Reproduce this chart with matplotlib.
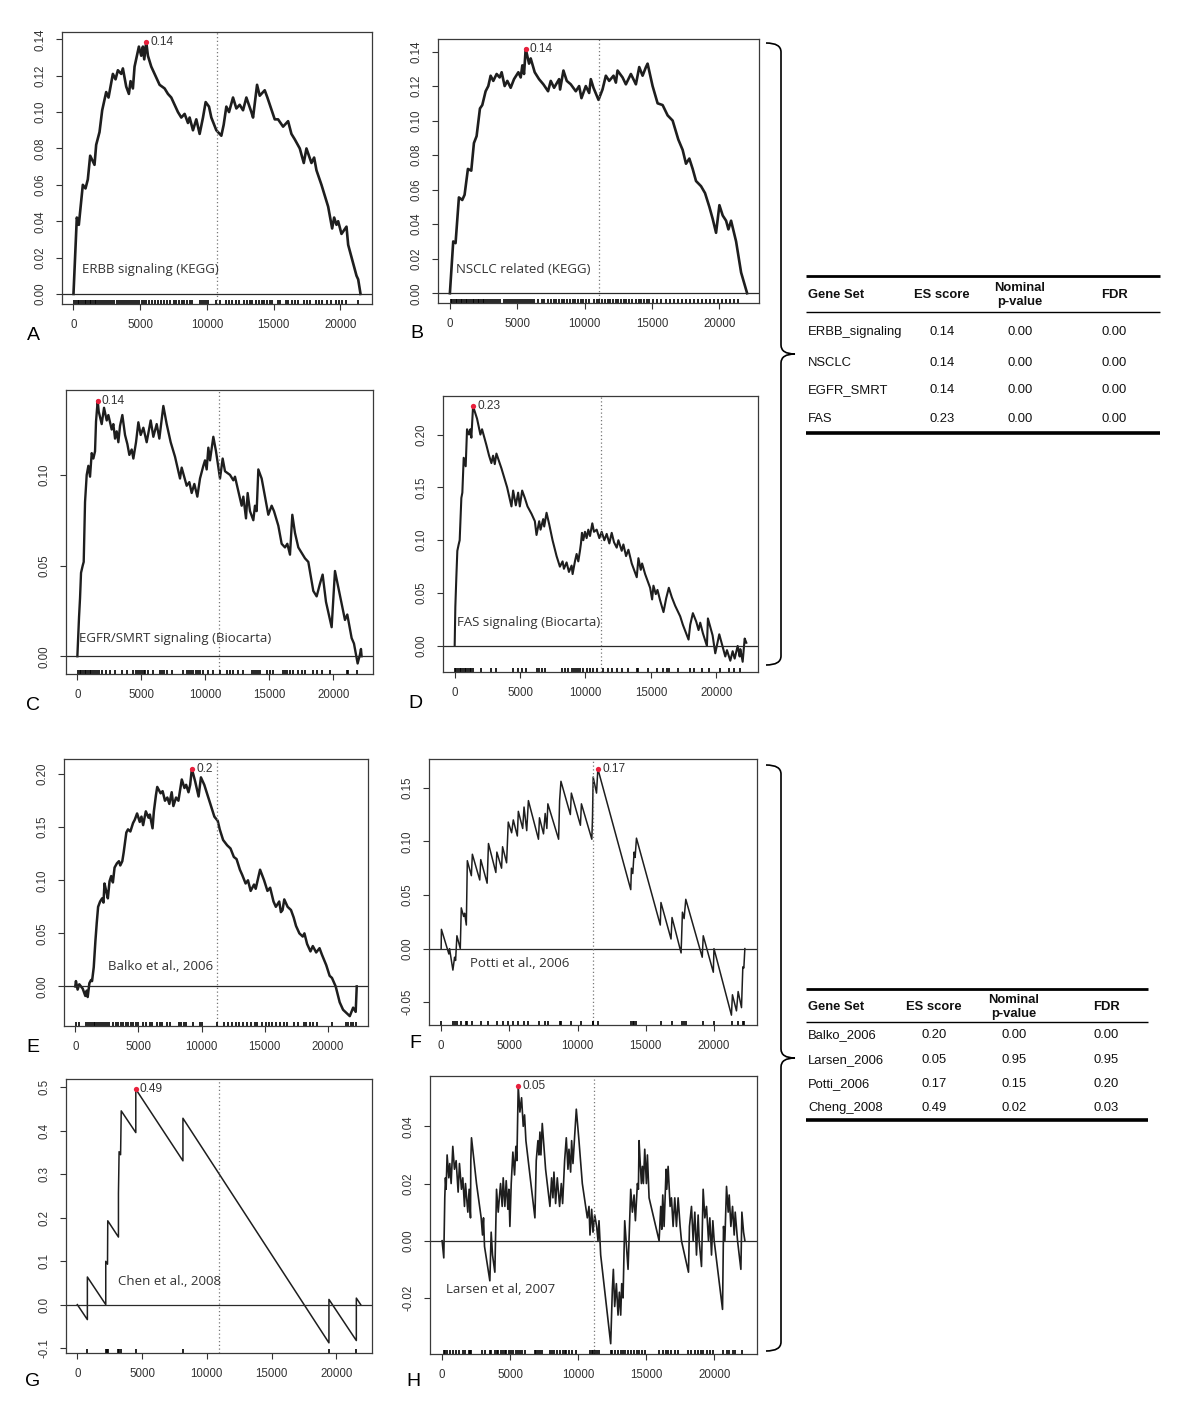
import matplotlib
matplotlib.use("Agg")
import matplotlib.pyplot as plt
from matplotlib.path import Path
from matplotlib.patches import PathPatch
from matplotlib.lines import Line2D
from matplotlib.ticker import FormatStrFormatter

plt.rcParams['font.family'] = ['Liberation Sans', 'DejaVu Sans']
plt.rcParams['axes.unicode_minus'] = False

# running enrichment scores (rank in list, ES)
erbb_curve = [(0, 0.0), (250, 0.042), (400, 0.038), (700, 0.060), (900, 0.058), (1075, 0.063), (1250, 0.076),
              (1575, 0.071), (1700, 0.082), (1950, 0.089), (2150, 0.101), (2450, 0.111), (2625, 0.108),
              (2950, 0.121), (3150, 0.118), (3325, 0.123), (3575, 0.121), (3700, 0.124), (3950, 0.114),
              (4150, 0.110), (4275, 0.117), (4450, 0.113), (4575, 0.125), (4900, 0.136), (5075, 0.131),
              (5200, 0.136), (5300, 0.129), (5450, 0.1385), (5575, 0.131), (5825, 0.125), (6075, 0.121),
              (6450, 0.115), (6825, 0.113), (7075, 0.110), (7325, 0.108), (7825, 0.100), (8075, 0.097),
              (8325, 0.099), (8575, 0.094), (8700, 0.097), (8950, 0.090), (9200, 0.096), (9450, 0.088),
              (9700, 0.097), (9900, 0.1055), (10150, 0.103), (10325, 0.097), (10700, 0.090), (11075, 0.087),
              (11250, 0.093), (11450, 0.103), (11650, 0.100), (11950, 0.108), (12200, 0.102), (12450, 0.104),
              (12700, 0.101), (12950, 0.108), (13325, 0.100), (13450, 0.097), (13750, 0.115), (13950, 0.109),
              (14325, 0.112), (14525, 0.108), (15075, 0.096), (15325, 0.096), (15700, 0.092), (16075, 0.095),
              (16325, 0.088), (16575, 0.085), (16950, 0.080), (17250, 0.072), (17450, 0.080), (17825, 0.072),
              (18025, 0.075), (18200, 0.068), (18575, 0.060), (19075, 0.048), (19375, 0.036), (19525, 0.042),
              (19700, 0.038), (19825, 0.040), (20075, 0.033), (20450, 0.037), (20575, 0.027), (21200, 0.010),
              (21325, 0.008), (21500, 0.0)]
erbb_hits = [75, 200, 330, 450, 580, 700, 830, 950, 1080, 1200, 1330, 1450, 1580, 1700, 1830, 1950,
             2100, 2250, 2400, 2550, 2700, 2850, 3000, 3250, 3400, 3550, 3700, 3850, 4000, 4150, 4300,
             4450, 4600, 4750, 4900, 5100, 5300, 5450, 5650, 5850, 6100, 6300, 6550, 6800, 7000, 7250,
             7500, 7700, 7900, 8100, 8300, 8500, 8700, 8900, 9450, 9600, 9750, 9900, 10050, 10700, 10950,
             11450, 11650, 11850, 12200, 12400, 12800, 13000, 13200, 13400, 13700, 13900, 14100, 14300,
             14500, 14700, 14900, 15300, 15500, 15900, 16100, 16400, 16600, 16800, 17300, 17500, 17700,
             18200, 18400, 18600, 19000, 19300, 19700, 19900, 20100, 20400, 21300]

nsclc_curve = [(0, 0.0), (248, 0.030), (421, 0.029), (669, 0.0555), (917, 0.054), (1090, 0.057), (1338, 0.072),
               (1586, 0.071), (1784, 0.087), (1982, 0.091), (2230, 0.107), (2404, 0.109), (2651, 0.117),
               (2850, 0.120), (3023, 0.126), (3221, 0.123), (3469, 0.127), (3692, 0.125), (3841, 0.128),
               (4064, 0.120), (4262, 0.123), (4510, 0.119), (4758, 0.124), (5080, 0.128), (5253, 0.125),
               (5377, 0.132), (5501, 0.127), (5625, 0.1416), (5873, 0.133), (5997, 0.136), (6294, 0.128),
               (6616, 0.124), (6938, 0.121), (7285, 0.117), (7484, 0.123), (7731, 0.119), (8103, 0.124),
               (8177, 0.118), (8425, 0.129), (8673, 0.123), (8970, 0.121), (9342, 0.117), (9590, 0.120),
               (9763, 0.113), (10085, 0.120), (10333, 0.116), (10457, 0.124), (10655, 0.119), (11027, 0.112),
               (11324, 0.118), (11572, 0.126), (11820, 0.123), (12142, 0.126), (12316, 0.122), (12440, 0.129),
               (12812, 0.125), (13059, 0.121), (13431, 0.127), (13802, 0.121), (14050, 0.131), (14298, 0.126),
               (14546, 0.131), (14670, 0.133), (15041, 0.120), (15413, 0.110), (15785, 0.109), (16157, 0.103),
               (16528, 0.100), (16950, 0.089), (17272, 0.083), (17519, 0.075), (17767, 0.078), (18015, 0.072),
               (18263, 0.065), (18635, 0.062), (18932, 0.058), (19254, 0.050), (19502, 0.043), (19750, 0.035),
               (19998, 0.051), (20245, 0.045), (20493, 0.042), (20667, 0.037), (20865, 0.042), (21236, 0.030),
               (21608, 0.012), (22054, 0.0)]
nsclc_hits = [50, 180, 300, 430, 550, 680, 800, 930, 1050, 1180, 1300, 1430, 1550, 1680, 1800, 1930, 2050,
              2180, 2300, 2430, 2550, 2700, 2850, 3000, 3150, 3300, 3450, 3600, 3750, 4000, 4150, 4300,
              4450, 4600, 4750, 4900, 5050, 5200, 5350, 5500, 5650, 5800, 5950, 6100, 6250, 6550, 6800,
              7000, 7300, 7500, 7700, 7900, 8100, 8300, 8500, 8700, 8900, 9100, 9300, 9500, 9700, 9900,
              10100, 10300, 10700, 10900, 11100, 11300, 11500, 11700, 11900, 12100, 12300, 12500, 12700,
              12900, 13100, 13300, 13500, 13800, 14000, 14200, 14400, 14600, 14800, 15100, 15400, 15700,
              16000, 16300, 16600, 16900, 17200, 17500, 17800, 18100, 18400, 18700, 19000, 19300, 19600,
              19900, 20200, 20500, 20800, 21100, 21350]

egfr_curve = [(0, 0.0), (130, 0.0216), (208, 0.032), (286, 0.046), (417, 0.050), (495, 0.052), (599, 0.085),
              (729, 0.100), (859, 0.105), (990, 0.099), (1120, 0.112), (1250, 0.109), (1380, 0.113),
              (1458, 0.1295), (1588, 0.141), (1667, 0.135), (1901, 0.128), (2083, 0.137), (2292, 0.130),
              (2422, 0.133), (2682, 0.125), (2812, 0.128), (2943, 0.120), (3073, 0.124), (3203, 0.118),
              (3333, 0.127), (3515, 0.133), (3724, 0.122), (3906, 0.117), (4062, 0.111), (4245, 0.114),
              (4375, 0.109), (4583, 0.118), (4765, 0.129), (4948, 0.122), (5156, 0.126), (5416, 0.118),
              (5729, 0.130), (5937, 0.121), (6198, 0.128), (6406, 0.120), (6718, 0.138), (6979, 0.128),
              (7291, 0.118), (7630, 0.110), (8020, 0.098), (8151, 0.104), (8541, 0.094), (8749, 0.096),
              (8932, 0.090), (9140, 0.095), (9374, 0.088), (9583, 0.098), (9843, 0.105), (9973, 0.108),
              (10104, 0.103), (10234, 0.115), (10364, 0.108), (10624, 0.121), (10832, 0.113), (11145, 0.098),
              (11353, 0.109), (11536, 0.102), (11926, 0.100), (12187, 0.097), (12317, 0.099), (12577, 0.091),
              (12838, 0.083), (12968, 0.088), (13176, 0.076), (13306, 0.090), (13489, 0.080), (13749, 0.075),
              (13879, 0.083), (14010, 0.080), (14140, 0.103), (14400, 0.098), (14661, 0.088), (14921, 0.078),
              (15181, 0.083), (15364, 0.080), (15702, 0.072), (15963, 0.062), (16223, 0.060), (16405, 0.062),
              (16614, 0.056), (16796, 0.078), (17004, 0.068), (17265, 0.060), (17525, 0.057), (17785, 0.054),
              (18046, 0.052), (18436, 0.036), (18697, 0.033), (18957, 0.040), (19165, 0.045), (19426, 0.030),
              (19869, 0.016), (20129, 0.047), (20389, 0.038), (20910, 0.020), (21092, 0.023), (21431, 0.010),
              (21613, 0.007), (21900, -0.004), (22082, 0.001), (22160, 0.004), (22212, 0.0)]
egfr_hits = [50, 180, 300, 430, 560, 700, 830, 950, 1100, 1250, 1400, 1550, 1700, 1900, 2240, 2550, 2940,
             3460, 3850, 4380, 4550, 4720, 4900, 5050, 5200, 5290, 5550, 5940, 6460, 6620, 6770, 6980, 7370,
             8280, 8540, 8700, 8880, 9060, 9250, 9420, 9580, 9840, 10230, 10625, 11145, 11670, 11930, 12190,
             12580, 12970, 13620, 13800, 13960, 14140, 14270, 14790, 15050, 15310, 16090, 16250, 16400,
             16600, 16870, 17260, 17520, 17790, 18440, 18700, 19090, 19740, 21040, 21170, 21820]

fas_curve = [(0, 0.0), (51, 0.037), (128, 0.065), (204, 0.090), (306, 0.096), (383, 0.100), (511, 0.140),
             (587, 0.145), (690, 0.178), (843, 0.170), (945, 0.205), (1098, 0.200), (1200, 0.205), (1277, 0.197),
             (1405, 0.2268), (1711, 0.215), (1967, 0.200), (2094, 0.205), (2426, 0.190), (2631, 0.180),
             (2809, 0.173), (2937, 0.180), (3065, 0.172), (3193, 0.182), (3576, 0.168), (4010, 0.150),
             (4342, 0.132), (4470, 0.147), (4674, 0.133), (4853, 0.145), (4980, 0.132), (5159, 0.147),
             (5363, 0.140), (5568, 0.132), (5874, 0.125), (6130, 0.118), (6257, 0.105), (6462, 0.118),
             (6564, 0.110), (6768, 0.120), (6845, 0.113), (7024, 0.126), (7228, 0.115), (7483, 0.100),
             (7790, 0.085), (8045, 0.075), (8249, 0.080), (8352, 0.073), (8556, 0.079), (8735, 0.070),
             (8939, 0.076), (9016, 0.068), (9194, 0.080), (9322, 0.087), (9450, 0.080), (9578, 0.090),
             (9654, 0.097), (9731, 0.107), (9833, 0.100), (9961, 0.108), (10088, 0.102), (10216, 0.110),
             (10344, 0.104), (10522, 0.116), (10650, 0.108), (10855, 0.110), (11059, 0.102), (11238, 0.108),
             (11442, 0.100), (11621, 0.106), (11825, 0.097), (12004, 0.107), (12183, 0.098), (12387, 0.093),
             (12515, 0.100), (12770, 0.090), (12898, 0.096), (13102, 0.085), (13281, 0.091), (13536, 0.078),
             (13919, 0.065), (14047, 0.083), (14226, 0.072), (14328, 0.078), (14558, 0.068), (14941, 0.055),
             (15094, 0.044), (15196, 0.057), (15375, 0.049), (15503, 0.053), (15707, 0.043), (15963, 0.032),
             (16167, 0.045), (16371, 0.055), (16601, 0.046), (16856, 0.038), (17240, 0.028), (17444, 0.020),
             (17878, 0.006), (18006, 0.020), (18210, 0.031), (18465, 0.023), (18644, 0.015), (18772, 0.022),
             (18976, 0.012), (19283, 0.0), (19359, 0.026), (19717, 0.010), (19921, -0.007), (20227, 0.011),
             (20381, 0.004), (20687, -0.010), (20815, -0.004), (21071, -0.014), (21250, -0.005),
             (21403, -0.012), (21633, 0.0), (21786, -0.010), (21837, -0.003), (22016, -0.015), (22169, 0.007),
             (22296, 0.003)]
fas_hits = [20, 130, 250, 380, 500, 630, 760, 900, 1020, 1150, 1280, 1400, 2040, 2810, 3190, 4470, 4850,
            5110, 5490, 6260, 6460, 6640, 6900, 8170, 8430, 8680, 8940, 9100, 9270, 9450, 9600, 9830, 10090,
            10340, 10600, 10850, 11370, 11750, 12000, 12390, 12770, 13280, 13920, 14050, 14810, 15450, 15960,
            16220, 16350, 17110, 18010, 18260, 18900, 19410, 20300, 20940, 21330, 21840]

balko_curve = [(0, 0.0), (53, 0.005), (186, -0.003), (319, 0.002), (452, 0.0), (585, -0.002), (798, -0.009),
               (904, -0.004), (984, -0.010), (1117, 0.003), (1250, 0.006), (1330, 0.005), (1463, 0.018),
               (1596, 0.043), (1702, 0.060), (1809, 0.075), (1968, 0.080), (2128, 0.083), (2234, 0.079),
               (2314, 0.097), (2447, 0.090), (2580, 0.083), (2713, 0.099), (2846, 0.104), (2979, 0.098),
               (3112, 0.112), (3298, 0.116), (3458, 0.118), (3564, 0.114), (3724, 0.118), (3830, 0.126),
               (4043, 0.145), (4176, 0.148), (4362, 0.146), (4575, 0.154), (4708, 0.157), (4894, 0.163),
               (5107, 0.155), (5240, 0.160), (5373, 0.152), (5586, 0.165), (5799, 0.159), (5905, 0.162),
               (6118, 0.149), (6224, 0.165), (6384, 0.180), (6490, 0.188), (6756, 0.182), (6916, 0.184),
               (7102, 0.175), (7288, 0.178), (7448, 0.172), (7634, 0.183), (7767, 0.170), (7980, 0.178),
               (8166, 0.175), (8432, 0.195), (8645, 0.187), (8778, 0.190), (8964, 0.183), (9097, 0.190),
               (9230, 0.205), (9496, 0.193), (9762, 0.179), (9948, 0.197), (10214, 0.190), (10480, 0.180),
               (10693, 0.172), (11012, 0.160), (11278, 0.156), (11438, 0.148), (11704, 0.138), (12023, 0.133),
               (12289, 0.130), (12555, 0.122), (12768, 0.120), (13034, 0.110), (13220, 0.105), (13486, 0.097),
               (13672, 0.100), (13885, 0.090), (14151, 0.096), (14284, 0.092), (14630, 0.110), (14949, 0.100),
               (15215, 0.090), (15428, 0.093), (15694, 0.080), (15880, 0.075), (16146, 0.080), (16279, 0.070),
               (16412, 0.072), (16545, 0.082), (16811, 0.075), (17077, 0.072), (17290, 0.065), (17476, 0.057),
               (17742, 0.050), (18008, 0.047), (18141, 0.050), (18354, 0.040), (18620, 0.033), (18806, 0.038),
               (19072, 0.032), (19338, 0.036), (19524, 0.030), (19870, 0.020), (20136, 0.010), (20322, 0.008),
               (20615, 0.0), (20934, -0.015), (21200, -0.022), (21466, -0.025), (21732, -0.028),
               (21998, -0.020), (22200, -0.024), (22283, 0.0)]
balko_hits = [53, 320, 850, 1000, 1150, 1300, 1450, 1600, 1750, 1900, 2050, 2200, 2350, 2500, 2700, 3000,
              3200, 3400, 3600, 3800, 4000, 4200, 4400, 4600, 4800, 5000, 5400, 5600, 5900, 6100, 6500, 6700,
              6900, 7300, 7500, 8200, 8400, 8600, 8800, 9300, 9900, 10000, 11200, 11800, 12100, 12400, 12700,
              13000, 13300, 13600, 13900, 14200, 14400, 14800, 15100, 15300, 15600, 15900, 16200, 16500,
              16800, 17300, 17600, 18100, 18300, 18600, 18800, 19100, 20300, 21400, 21600, 21800, 22000, 22200]

potti_curve = [(0, 0.0), (20, 0.018), (566, -0.005), (615, 0.0), (861, -0.020), (984, -0.008), (1058, -0.011),
               (1156, 0.012), (1402, 0.0), (1476, 0.038), (1648, 0.030), (1722, 0.033), (1845, 0.022),
               (1870, 0.042), (1919, 0.082), (2214, 0.068), (2288, 0.088), (2829, 0.064), (2903, 0.083),
               (3370, 0.061), (3469, 0.098), (4010, 0.071), (4084, 0.090), (4428, 0.075), (4502, 0.095),
               (4797, 0.080), (4920, 0.118), (5166, 0.108), (5289, 0.120), (5584, 0.105), (5658, 0.128),
               (5978, 0.112), (6076, 0.132), (6273, 0.110), (6396, 0.138), (7134, 0.102), (7208, 0.122),
               (7503, 0.107), (7626, 0.126), (7749, 0.112), (7823, 0.135), (8610, 0.102), (8684, 0.138),
               (8782, 0.156), (9471, 0.125), (9545, 0.145), (10209, 0.115), (10283, 0.135), (11045, 0.102),
               (11095, 0.122), (11144, 0.160), (11390, 0.145), (11488, 0.1676), (13899, 0.055), (13948, 0.075),
               (14047, 0.070), (14145, 0.090), (14219, 0.085), (14317, 0.103), (16064, 0.022), (16113, 0.043),
               (16851, 0.009), (16925, 0.029), (17589, -0.004), (17687, 0.034), (17810, 0.028), (17933, 0.046),
               (19139, -0.008), (19213, 0.012), (19951, -0.022), (20000, 0.0), (21279, -0.062),
               (21353, -0.043), (21648, -0.058), (21771, -0.040), (22017, -0.055), (22115, -0.017),
               (22189, -0.018), (22263, 0.0)]
potti_hits = [20, 860, 984, 1156, 1476, 1845, 1919, 2288, 2903, 3469, 4084, 4502, 4920, 5289, 5658, 6076, 6396,
              7208, 7626, 7823, 8684, 8782, 9545, 10283, 11095, 11144, 11488, 13948, 14047, 14145, 14317,
              16113, 16925, 17687, 17810, 17933, 19213, 20000, 21353, 21771, 22115, 22189]

chen_curve = [(0, 0.0), (775, -0.0345), (775, 0.0636), (2195, 0.0), (2195, 0.0996), (2330, 0.093),
              (2350, 0.193), (3175, 0.1555), (3175, 0.256), (3225, 0.352), (3340, 0.345), (3390, 0.446),
              (4515, 0.396), (4515, 0.496), (8155, 0.331), (8155, 0.429), (19430, -0.088), (19430, 0.012),
              (21545, -0.0827), (21545, 0.015), (21880, 0.0)]
chen_hits = [775, 2195, 2300, 2350, 3175, 3225, 3390, 4515, 8155, 19430, 21545]

larsen_curve = [(0, 0.0), (123, -0.006), (196, 0.015), (245, 0.022), (294, 0.018), (368, 0.030), (491, 0.022),
                (564, 0.027), (663, 0.020), (785, 0.033), (908, 0.025), (1031, 0.028), (1178, 0.017),
                (1276, 0.027), (1423, 0.018), (1521, 0.022), (1644, 0.012), (1718, 0.020), (1890, 0.010),
                (1988, 0.018), (2086, 0.008), (2110, 0.028), (2160, 0.036), (2528, 0.020), (2871, 0.008),
                (2969, 0.002), (3043, 0.008), (3117, -0.002), (3509, -0.014), (3607, 0.003), (3706, -0.005),
                (3877, -0.011), (4000, 0.018), (4123, 0.010), (4295, 0.020), (4417, 0.012), (4491, 0.022),
                (4614, 0.012), (4712, 0.021), (4834, 0.011), (4908, 0.018), (4982, 0.005), (5080, 0.020),
                (5202, 0.031), (5325, 0.023), (5423, 0.033), (5497, 0.028), (5595, 0.054), (5718, 0.045),
                (5841, 0.050), (5963, 0.040), (6061, 0.044), (6160, 0.035), (6822, 0.008), (6920, 0.028),
                (7043, 0.035), (7117, 0.030), (7190, 0.038), (7264, 0.030), (7362, 0.041), (7607, 0.025),
                (7926, 0.012), (8049, 0.022), (8147, 0.015), (8221, 0.024), (8344, 0.013), (8466, 0.022),
                (8638, 0.012), (8761, 0.020), (8859, 0.013), (9006, 0.028), (9129, 0.036), (9252, 0.025),
                (9325, 0.032), (9448, 0.024), (9521, 0.035), (9620, 0.027), (9865, 0.046), (10061, 0.035),
                (10307, 0.020), (10675, 0.008), (10798, 0.012), (10871, 0.002), (10994, 0.011), (11092, 0.003),
                (11215, 0.009), (11362, 0.005), (11460, 0.0), (11534, 0.007), (11657, -0.005), (12393, -0.036),
                (12515, -0.017), (12589, -0.010), (12687, -0.023), (12810, -0.015), (12932, -0.026),
                (13030, -0.018), (13129, -0.026), (13203, -0.015), (13301, -0.020), (13424, 0.007),
                (13498, 0.002), (13669, -0.010), (13865, 0.018), (13988, 0.010), (14111, 0.016), (14209, 0.007),
                (14356, 0.020), (14430, 0.018), (14479, 0.035), (14553, 0.028), (14651, 0.020), (14724, 0.026),
                (14798, 0.020), (14896, 0.032), (15018, 0.020), (15092, 0.030), (15215, 0.015), (15951, 0.0),
                (16074, 0.012), (16147, 0.004), (16221, 0.016), (16319, 0.005), (16466, 0.025), (16515, 0.018),
                (16614, 0.026), (16761, 0.012), (16859, 0.015), (16982, 0.005), (17104, 0.015), (17227, 0.005),
                (17350, 0.015), (17497, 0.005), (17595, 0.0), (18111, -0.011), (18184, 0.005), (18332, 0.012),
                (18455, 0.0), (18577, 0.010), (18700, -0.005), (18822, 0.009), (18896, 0.0), (19068, -0.009),
                (19190, 0.018), (19313, 0.008), (19436, 0.012), (19583, 0.0), (19681, 0.008), (19804, -0.005),
                (19902, 0.007), (20000, 0.0), (20614, -0.024), (20687, 0.005), (20785, 0.0), (20908, 0.019),
                (21031, 0.010), (21104, 0.016), (21227, 0.005), (21350, 0.012), (21472, 0.002), (21546, 0.010),
                (21718, 0.0), (21963, -0.010), (22037, 0.010), (22160, 0.003), (22258, 0.0)]
larsen_hits = [123, 245, 368, 564, 785, 1031, 1276, 1521, 1718, 1988, 2086, 2160, 2945, 3117, 3509, 3607, 3877,
               4000, 4123, 4295, 4491, 4614, 4712, 4908, 5080, 5202, 5423, 5595, 5718, 5841, 6061, 6822, 6920,
               7043, 7190, 7362, 7926, 8049, 8221, 8466, 8638, 8859, 9006, 9129, 9325, 9521, 9865, 10871,
               10994, 11092, 11215, 11362, 11534, 12393, 12515, 12687, 12932, 13129, 13301, 13424, 13669,
               13865, 14111, 14356, 14479, 14724, 14896, 15951, 16221, 16466, 16614, 16859, 17104, 17350,
               18111, 18332, 18577, 18822, 19068, 19190, 19436, 19681, 19902, 20614, 20908, 21104, 21350,
               21546, 22037]

set_names = ['ERBB signaling (KEGG)', 'NSCLC related (KEGG)', 'EGFR/SMRT signaling (Biocarta)',
             'FAS signaling (Biocarta)', 'Balko et al., 2006', 'Potti et al., 2006', 'Chen et al., 2008',
             'Larsen et al, 2007']
peak_labels = ['0.14', '0.14', '0.14', '0.23', '0.2', '0.17', '0.49', '0.05']
panel_letters = ['A', 'B', 'C', 'D', 'E', 'F', 'G', 'H']

table1_sets = ['ERBB_signaling', 'NSCLC', 'EGFR_SMRT', 'FAS']
table1_es = ['0.14', '0.14', '0.14', '0.23']
table1_p = ['0.00', '0.00', '0.00', '0.00']
table1_fdr = ['0.00', '0.00', '0.00', '0.00']
table2_sets = ['Balko_2006', 'Larsen_2006', 'Potti_2006', 'Cheng_2008']
table2_es = ['0.20', '0.05', '0.17', '0.49']
table2_p = ['0.00', '0.95', '0.15', '0.02']
table2_fdr = ['0.00', '0.95', '0.20', '0.03']

W, H = 1200, 1408
fig = plt.figure(figsize=(12, 14.08), dpi=100)
fig.patch.set_facecolor('white')


def fx(x):
    return x / W


def fy(y):
    return 1 - y / H


# layout in pixels: axes box (left, top, right, bottom), letter position, label position, mid line
panels = [
    dict(curve=erbb_curve, hits=erbb_hits, box=(62, 32, 372, 304), letter=(33, 335), name_at=(650, 0.0132),
         mid=10750, yt=[0, 0.02, 0.04, 0.06, 0.08, 0.10, 0.12, 0.14], fmt='%.2f', lw=1.9),
    dict(curve=nsclc_curve, hits=nsclc_hits, box=(438, 39, 759, 303), letter=(417, 333), name_at=(420, 0.0139),
         mid=11080, yt=[0, 0.02, 0.04, 0.06, 0.08, 0.10, 0.12, 0.14], fmt='%.2f', lw=1.9),
    dict(curve=egfr_curve, hits=egfr_hits, box=(66, 390, 373, 674), letter=(33, 705), name_at=(130, 0.0100),
         mid=11100, yt=[0, 0.05, 0.10], fmt='%.2f', lw=1.7),
    dict(curve=fas_curve, hits=fas_hits, box=(443, 396, 758, 672), letter=(415, 704), name_at=(179, 0.0217),
         mid=11160, yt=[0, 0.05, 0.10, 0.15, 0.20], fmt='%.2f', lw=1.5),
    dict(curve=balko_curve, hits=balko_hits, box=(64, 759, 368, 1026), letter=(33, 1047), name_at=(2580, 0.0188),
         mid=11220, yt=[0, 0.05, 0.10, 0.15, 0.20], fmt='%.2f', lw=1.8),
    dict(curve=potti_curve, hits=potti_hits, box=(429, 759, 757, 1025), letter=(415, 1044), name_at=(2090, -0.014),
         mid=11144, yt=[-0.05, 0, 0.05, 0.10, 0.15], fmt='%.2f', lw=1.1),
    dict(curve=chen_curve, hits=chen_hits, box=(66, 1079, 372, 1353), letter=(33, 1382), name_at=(3120, 0.0536),
         mid=10910, yt=[-0.1, 0, 0.1, 0.2, 0.3, 0.4, 0.5], fmt='%.1f', lw=1.1),
    dict(curve=larsen_curve, hits=larsen_hits, box=(430, 1076, 757, 1354), letter=(413, 1382), name_at=(320, -0.017),
         mid=11166, yt=[-0.02, 0, 0.02, 0.04], fmt='%.2f', lw=1.2),
]

grey = '#333333'
for i, p in enumerate(panels):
    l, t, r, b = p['box']
    ax = fig.add_axes([fx(l), fy(b), (r - l) / W, (b - t) / H])
    xs = [c[0] for c in p['curve']]
    ys = [c[1] for c in p['curve']]
    ax.plot(xs, ys, color='#1e1e1e', lw=p['lw'], solid_joinstyle='round')
    ax.margins(0.04)
    ax.autoscale_view()
    ax.set_xlim(ax.get_xlim())
    ax.set_ylim(ax.get_ylim())

    ax.axhline(0, color='#2a2a2a', lw=0.9)
    ax.axvline(p['mid'], color='#777777', lw=0.9, ls=(0, (1, 2)))
    ax.vlines(p['hits'], 0, 0.015, transform=ax.get_xaxis_transform(), color='black', lw=1.2)

    k = ys.index(max(ys))
    ax.plot(xs[k], ys[k], 'o', color='#e8203c', ms=3.8, mec='none', zorder=5)
    ax.annotate(peak_labels[i], (xs[k], ys[k]), xytext=(3, 0), textcoords='offset points',
                va='center', ha='left', fontsize=8.6, color=grey)
    ax.text(p['name_at'][0], p['name_at'][1], set_names[i], fontsize=9.5, color=grey,
            family=['Open Sans', 'DejaVu Sans'], va='center', ha='left')

    ax.set_xticks([0, 5000, 10000, 15000, 20000])
    ax.set_yticks(p['yt'])
    ax.yaxis.set_major_formatter(FormatStrFormatter(p['fmt']))
    ax.tick_params(direction='out', length=4, width=0.8, colors=grey, labelsize=8.3, pad=7)
    for lab in ax.get_yticklabels():
        lab.set_rotation(90)
        lab.set_va('center')
    for sp in ax.spines.values():
        sp.set_color('#3a3a3a')
        sp.set_linewidth(0.9)

    fig.text(fx(p['letter'][0]), fy(p['letter'][1]), panel_letters[i], fontsize=14,
             ha='center', va='center', color='black')


def hline(x0, x1, y, lw):
    fig.add_artist(Line2D([fx(x0), fx(x1)], [fy(y), fy(y)], transform=fig.transFigure,
                          color='black', lw=lw, solid_capstyle='butt'))


def table(sets, es, pv, fdr, x0, x1, cols, y_top, y_head, y_rule, rows_y, y_bot):
    hline(x0, x1, y_top, 2.0)
    hline(x0, x1, y_rule, 1.0)
    hline(x0, x1, y_bot, 2.6)
    kw = dict(fontsize=9.4, color='#111111', va='center')
    fig.text(fx(cols[0]), fy(y_head), 'Gene Set', ha='left', weight='bold', **kw)
    fig.text(fx(cols[1]), fy(y_head), 'ES score', ha='center', weight='bold', **kw)
    fig.text(fx(cols[2]), fy(y_head), 'Nominal\np-value', ha='center', weight='bold', linespacing=1.2, **kw)
    fig.text(fx(cols[3]), fy(y_head), 'FDR', ha='center', weight='bold', **kw)
    for j, y in enumerate(rows_y):
        fig.text(fx(cols[0]), fy(y), sets[j], ha='left', **kw)
        fig.text(fx(cols[1]), fy(y), es[j], ha='center', **kw)
        fig.text(fx(cols[2]), fy(y), pv[j], ha='center', **kw)
        fig.text(fx(cols[3]), fy(y), fdr[j], ha='center', **kw)


table(table1_sets, table1_es, table1_p, table1_fdr, 806, 1160, (808, 942, 1020, 1114),
      276, 295, 312, [332, 363, 390, 419], 433)
table(table2_sets, table2_es, table2_p, table2_fdr, 806, 1148, (808, 934, 1014, 1106),
      989, 1007, 1022, [1035, 1060, 1084, 1108], 1120)


def brace(x, top, mid, bot, arm=15, tip=14, r=9):
    pts = [(x - arm, top), (x, top), (x, top + r), (x, mid - r), (x, mid), (x + tip, mid),
           (x, mid), (x, mid + r), (x, bot - r), (x, bot), (x - arm, bot)]
    codes = [Path.MOVETO, Path.CURVE3, Path.CURVE3, Path.LINETO, Path.CURVE3, Path.CURVE3,
             Path.CURVE3, Path.CURVE3, Path.LINETO, Path.CURVE3, Path.CURVE3]
    verts = [(fx(a), fy(c)) for a, c in pts]
    fig.add_artist(PathPatch(Path(verts, codes), transform=fig.transFigure, fill=False,
                             edgecolor='black', lw=1.2))


brace(781, 43, 354, 665)
brace(781, 765, 1058, 1351)

fig.savefig('out.png', dpi=100, facecolor='white')
